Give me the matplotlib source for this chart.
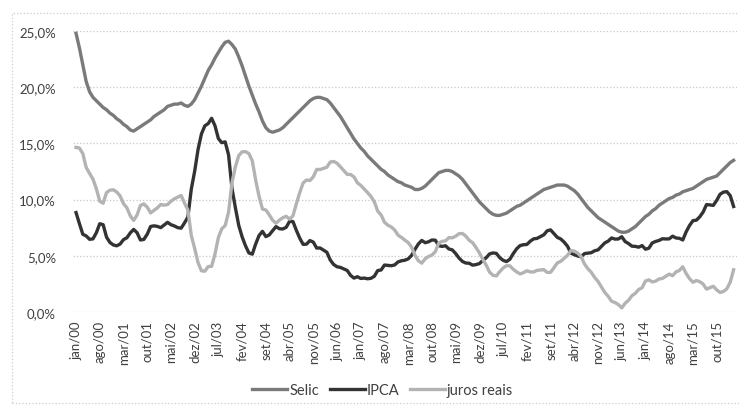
import numpy as np
import matplotlib
matplotlib.use("Agg")
import matplotlib.pyplot as plt
from matplotlib.patches import Rectangle

# monthly series, jan/00 .. mar/16 (% a.a.)
selic = [24.8, 23.5, 22.0, 20.5, 19.6, 19.1, 18.8, 18.5, 18.2, 18.0, 17.7, 17.5,
         17.2, 17.0, 16.7, 16.5, 16.2, 16.1, 16.3, 16.5, 16.7, 16.9, 17.1, 17.4,
         17.6, 17.8, 18.0, 18.3, 18.4, 18.5, 18.5, 18.6, 18.4, 18.3, 18.5, 18.9,
         19.5, 20.1, 20.8, 21.5, 22.0, 22.6, 23.1, 23.6, 24.0, 24.1, 23.8, 23.4,
         22.7, 21.9, 21.0, 20.1, 19.3, 18.5, 17.8, 17.0, 16.4, 16.1, 16.0, 16.1,
         16.2, 16.4, 16.7, 17.0, 17.3, 17.6, 17.9, 18.2, 18.5, 18.8, 19.0, 19.1,
         19.1, 19.0, 18.9, 18.6, 18.2, 17.8, 17.4, 16.9, 16.4, 15.9, 15.4, 15.0,
         14.6, 14.3, 13.9, 13.6, 13.3, 13.0, 12.7, 12.5, 12.2, 12.0, 11.8, 11.6,
         11.5, 11.3, 11.2, 11.1, 10.9, 10.9, 11.0, 11.2, 11.5, 11.8, 12.1, 12.4,
         12.5, 12.6, 12.6, 12.5, 12.3, 12.1, 11.8, 11.4, 11.0, 10.6, 10.2, 9.8,
         9.5, 9.2, 8.9, 8.7, 8.6, 8.6, 8.7, 8.8, 9.0, 9.2, 9.4, 9.5,
         9.7, 9.9, 10.1, 10.3, 10.5, 10.7, 10.9, 11.0, 11.1, 11.2, 11.3, 11.3,
         11.3, 11.2, 11.0, 10.8, 10.5, 10.1, 9.7, 9.3, 9.0, 8.7, 8.4, 8.2,
         8.0, 7.8, 7.6, 7.4, 7.2, 7.1, 7.1, 7.2, 7.4, 7.6, 7.9, 8.2,
         8.5, 8.7, 9.0, 9.2, 9.5, 9.7, 9.9, 10.1, 10.2, 10.4, 10.5, 10.7,
         10.8, 10.9, 11.0, 11.2, 11.4, 11.6, 11.8, 11.9, 12.0, 12.1, 12.4, 12.7,
         13.0, 13.3, 13.5]

ipca = [8.85, 7.86, 6.92, 6.77, 6.47, 6.51, 7.06, 7.86, 7.77, 6.66, 6.19, 5.97,
        5.89, 6.05, 6.44, 6.61, 7.04, 7.35, 7.06, 6.41, 6.46, 6.92, 7.61, 7.67,
        7.62, 7.51, 7.75, 7.98, 7.77, 7.66, 7.51, 7.46, 7.93, 8.45, 10.93, 12.53,
        14.47, 15.85, 16.57, 16.77, 17.24, 16.57, 15.43, 15.07, 15.14, 13.98, 11.02, 9.30,
        7.71, 6.69, 5.89, 5.26, 5.15, 6.06, 6.81, 7.18, 6.71, 6.86, 7.24, 7.60,
        7.41, 7.39, 7.54, 8.07, 8.05, 7.27, 6.57, 6.02, 6.04, 6.36, 6.22, 5.69,
        5.70, 5.51, 5.32, 4.63, 4.23, 4.03, 3.97, 3.84, 3.70, 3.26, 3.02, 3.14,
        2.99, 3.02, 2.96, 3.00, 3.18, 3.69, 3.74, 4.18, 4.15, 4.12, 4.19, 4.46,
        4.56, 4.61, 4.73, 5.04, 5.58, 6.06, 6.37, 6.17, 6.25, 6.41, 6.39, 5.90,
        5.84, 5.90, 5.61, 5.53, 5.20, 4.80, 4.50, 4.36, 4.34, 4.17, 4.22, 4.31,
        4.59, 4.83, 5.17, 5.26, 5.22, 4.84, 4.60, 4.49, 4.70, 5.20, 5.63, 5.91,
        5.99, 6.01, 6.30, 6.51, 6.55, 6.71, 6.87, 7.23, 7.31, 6.97, 6.64, 6.50,
        6.22, 5.85, 5.24, 5.10, 4.99, 4.92, 5.20, 5.24, 5.28, 5.45, 5.53, 5.84,
        6.15, 6.31, 6.59, 6.49, 6.50, 6.70, 6.27, 6.09, 5.86, 5.84, 5.77, 5.91,
        5.59, 5.68, 6.15, 6.28, 6.37, 6.52, 6.50, 6.51, 6.75, 6.59, 6.56, 6.41,
        7.14, 7.70, 8.13, 8.17, 8.47, 8.89, 9.56, 9.53, 9.49, 9.93, 10.48, 10.67,
        10.71, 10.36, 9.39]

juros_reais = [14.65, 14.59, 14.10, 12.86, 12.33, 11.82, 10.97, 9.86, 9.68, 10.63, 10.84, 10.88,
               10.68, 10.33, 9.64, 9.28, 8.56, 8.15, 8.63, 9.48, 9.62, 9.33, 8.82, 9.04,
               9.27, 9.57, 9.51, 9.56, 9.86, 10.07, 10.22, 10.37, 9.70, 9.08, 6.82, 5.66,
               4.39, 3.67, 3.63, 4.05, 4.06, 5.17, 6.64, 7.41, 7.69, 8.88, 11.51, 12.90,
               13.92, 14.26, 14.27, 14.10, 13.46, 11.73, 10.29, 9.16, 9.08, 8.65, 8.17, 7.90,
               8.18, 8.39, 8.52, 8.26, 8.56, 9.63, 10.63, 11.49, 11.75, 11.70, 12.03, 12.69,
               12.68, 12.79, 12.89, 13.35, 13.40, 13.24, 12.92, 12.58, 12.25, 12.24, 12.02, 11.50,
               11.27, 10.95, 10.63, 10.29, 9.81, 8.98, 8.64, 7.99, 7.73, 7.57, 7.30, 6.84,
               6.64, 6.40, 6.18, 5.77, 5.04, 4.56, 4.35, 4.74, 4.94, 5.07, 5.37, 6.14,
               6.29, 6.33, 6.62, 6.60, 6.75, 6.97, 6.99, 6.75, 6.38, 6.17, 5.74, 5.26,
               4.69, 4.17, 3.55, 3.27, 3.21, 3.59, 3.92, 4.12, 4.11, 3.80, 3.57, 3.39,
               3.50, 3.67, 3.57, 3.56, 3.71, 3.74, 3.77, 3.52, 3.53, 3.95, 4.37, 4.51,
               4.78, 5.05, 5.47, 5.42, 5.25, 4.94, 4.28, 3.86, 3.53, 3.08, 2.72, 2.23,
               1.74, 1.40, 0.95, 0.85, 0.66, 0.37, 0.78, 1.05, 1.45, 1.66, 2.01, 2.16,
               2.76, 2.86, 2.68, 2.75, 2.94, 2.99, 3.19, 3.37, 3.23, 3.57, 3.70, 4.03,
               3.42, 2.97, 2.65, 2.80, 2.70, 2.49, 2.04, 2.16, 2.29, 1.97, 1.74, 1.83,
               2.07, 2.66, 3.76]

meses = ['jan', 'fev', 'mar', 'abr', 'mai', 'jun', 'jul', 'ago', 'set', 'out', 'nov', 'dez']
labels = ['%s/%02d' % (meses[i % 12], i // 12) for i in range(len(selic))]

plt.rcParams['font.family'] = ['Lato', 'DejaVu Sans']

fig = plt.figure(figsize=(7.39, 4.06), dpi=100)
ax = fig.add_axes([0.0983, 0.229, 0.899, 0.692])

x = np.arange(len(selic))
ax.plot(x, selic, color='#7a7a7a', lw=2.4, label='Selic')
ax.plot(x, ipca, color='#333333', lw=2.4, label='IPCA')
ax.plot(x, juros_reais, color='#b3b3b3', lw=2.4, label='juros reais')

ax.set_ylim(0, 25)
ax.set_xlim(-1, len(selic))
yt = np.arange(0, 26, 5)
ax.set_yticks(yt)
ax.set_yticklabels([('%.1f%%' % v).replace('.', ',') for v in yt])
ax.set_xticks(x[::7])
ax.set_xticklabels(labels[::7], rotation=90)
ax.tick_params(axis='both', length=0, labelsize=9.5, colors='#404040')
ax.tick_params(axis='y', pad=12)
ax.tick_params(axis='x', pad=6)
ax.grid(axis='y', color='#c8c8c8', linestyle=':', lw=0.9)
ax.set_axisbelow(True)
for s in ax.spines.values():
    s.set_visible(False)

# chart border
fig.patches.append(Rectangle((0.016, 0.005), 0.99, 0.96, transform=fig.transFigure,
                             fill=False, ec='#cccccc', ls=':', lw=0.9))

fig.legend(loc='lower center', bbox_to_anchor=(0.518, -0.012), ncol=3, frameon=False,
           fontsize=10.5, handlelength=2.4, handletextpad=0.15, columnspacing=0.7,
           labelcolor='#404040')

fig.savefig('out.png', dpi=100)
